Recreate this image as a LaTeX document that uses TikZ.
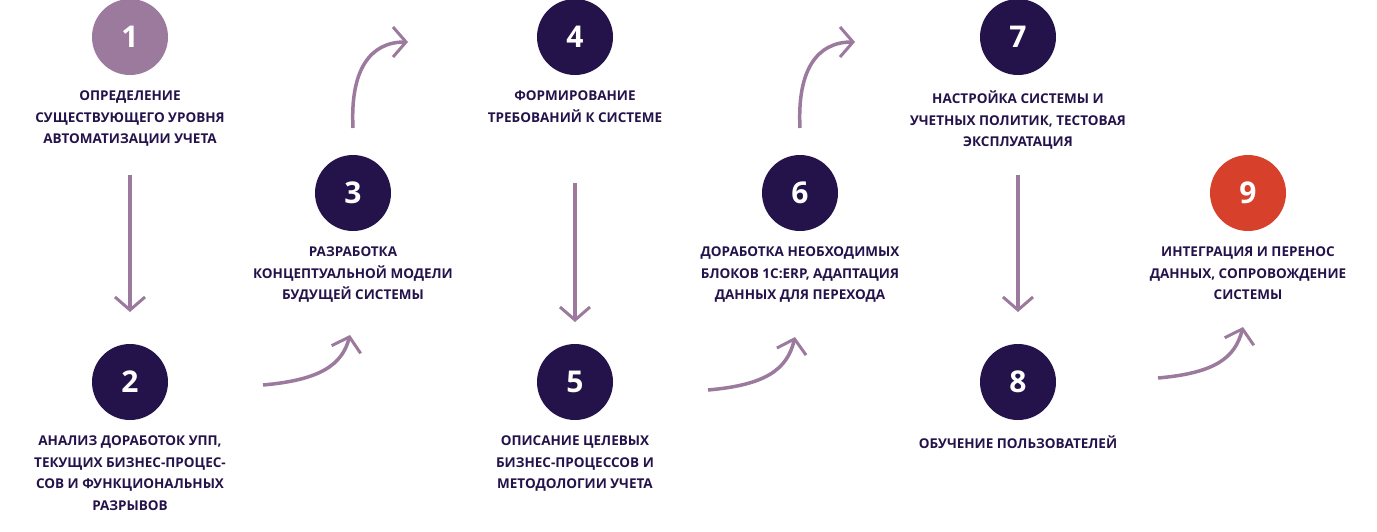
\documentclass[tikz,border=0pt]{standalone}
\usepackage{fontspec}
\setmainfont{Open Sans}
\usetikzlibrary{arrows.meta, positioning}
\definecolor{darknavy}{HTML}{24124A}
\definecolor{mauve}{HTML}{9B7A9E}
\definecolor{redstep}{HTML}{D7402B}
\tikzset{
  stepcircle/.style={circle, fill=darknavy, minimum size=76pt, inner sep=0pt, text=white, font=\fontsize{30}{30}\selectfont\bfseries},
  steptext/.style={align=center, text=darknavy, font=\fontsize{13.5}{21.5}\selectfont\bfseries},
  flow/.style={-{Straight Barb[length=13pt, width=30pt, line width=3pt]}, mauve, line width=3.5pt}
}
\begin{document}
\begin{tikzpicture}[x=1pt, y=-1pt]
        \useasboundingbox (0,0) rectangle (1377,531);
        
        % Steps
        \node[stepcircle, fill=mauve] (s1) at (130,37) {1};
        \node[stepcircle] (s2) at (130,382) {2};
        \node[stepcircle] (s3) at (353,193) {3};
        \node[stepcircle] (s4) at (575,37) {4};
        \node[stepcircle] (s5) at (575,382) {5};
        \node[stepcircle] (s6) at (800,193) {6};
        \node[stepcircle] (s7) at (1018,37) {7};
        \node[stepcircle] (s8) at (1018,382) {8};
        \node[stepcircle, fill=redstep] (s9) at (1248,193) {9};
        
        % Texts
        \node[steptext, below=12pt of s1] (t1) {ОПРЕДЕЛЕНИЕ\\СУЩЕСТВУЮЩЕГО УРОВНЯ\\АВТОМАТИЗАЦИИ УЧЕТА};
        \node[steptext, below=12pt of s2] (t2) {АНАЛИЗ ДОРАБОТОК УПП,\\ТЕКУЩИХ БИЗНЕС-ПРОЦЕС-\\СОВ И ФУНКЦИОНАЛЬНЫХ\\РАЗРЫВОВ};
        \node[steptext, below=12pt of s3] (t3) {РАЗРАБОТКА\\КОНЦЕПТУАЛЬНОЙ МОДЕЛИ\\БУДУЩЕЙ СИСТЕМЫ};
        \node[steptext, below=12pt of s4] (t4) {ФОРМИРОВАНИЕ\\ТРЕБОВАНИЙ К СИСТЕМЕ};
        \node[steptext, below=12pt of s5] (t5) {ОПИСАНИЕ ЦЕЛЕВЫХ\\БИЗНЕС-ПРОЦЕССОВ И\\МЕТОДОЛОГИИ УЧЕТА};
        \node[steptext, below=12pt of s6] (t6) {ДОРАБОТКА НЕОБХОДИМЫХ\\БЛОКОВ 1С:ERP, АДАПТАЦИЯ\\ДАННЫХ ДЛЯ ПЕРЕХОДА};
        \node[steptext, below=12pt of s7] (t7) {НАСТРОЙКА СИСТЕМЫ И\\УЧЕТНЫХ ПОЛИТИК, ТЕСТОВАЯ\\ЭКСПЛУАТАЦИЯ};
        \node[steptext, below=12pt of s8] (t8) {ОБУЧЕНИЕ ПОЛЬЗОВАТЕЛЕЙ};
        \node[steptext, below=12pt of s9] (t9) {ИНТЕГРАЦИЯ И ПЕРЕНОС\\ДАННЫХ, СОПРОВОЖДЕНИЕ\\СИСТЕМЫ};
        
        % Arrow ends
        \coordinate (a1) at (130,175); \coordinate (b1) at (130,312);
        \coordinate (a2) at (263,385); \coordinate (b2) at (350,335);
        \coordinate (a3) at (353,128); \coordinate (b3) at (408,42);
        \coordinate (a4) at (575,183); \coordinate (b4) at (575,322);
        \coordinate (a5) at (708,390); \coordinate (b5) at (795,337);
        \coordinate (a6) at (800,128); \coordinate (b6) at (855,42);
        \coordinate (a7) at (1018,175); \coordinate (b7) at (1018,312);
        \coordinate (a8) at (1158,378); \coordinate (b8) at (1243,327);
        
        % Arrows
        \draw[flow] (a1) -- (b1);
        \draw[flow] (a2) .. controls (320,380) and (342,365) .. (b2);
        \draw[flow] (a3) .. controls (350,70) and (370,42) .. (b3);
        \draw[flow] (a4) -- (b4);
        \draw[flow] (a5) .. controls (765,385) and (787,370) .. (b5);
        \draw[flow] (a6) .. controls (797,70) and (817,42) .. (b6);
        \draw[flow] (a7) -- (b7);
        \draw[flow] (a8) .. controls (1215,373) and (1235,358) .. (b8);
      \end{tikzpicture}
\end{document}
